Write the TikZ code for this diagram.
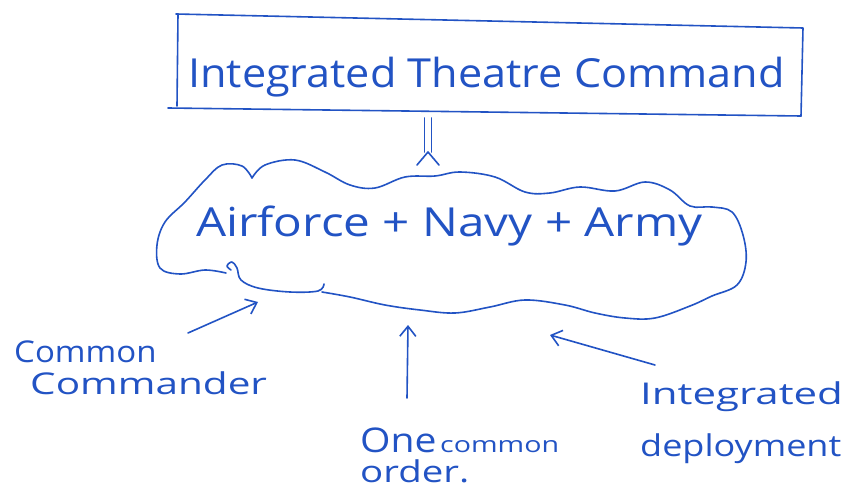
\documentclass[tikz,border=0pt]{standalone}
\usepackage{fontspec}
\setmainfont{Open Sans}
\usetikzlibrary{arrows.meta}
\definecolor{ink}{HTML}{2253C4}
\begin{document}
\begin{tikzpicture}[x=1pt,y=-1pt,
  pen/.style={draw=ink, line width=1.6pt, line cap=round, line join=round},
  hand/.style={text=ink, inner sep=0pt, anchor=base west},
  arrowpen/.style={pen, -{Straight Barb[length=10pt,width=16pt,line width=1.6pt]}}]
\useasboundingbox[fill=white] (0,0) rectangle (847,495);

% top box
\node[hand, font=\fontsize{40}{44}\selectfont] (itc) at (188,88) {\scalebox{1.08}[1]{Integrated Theatre Command}};
\draw[pen] (176,14) -- (803,28) -- (801,116);
\draw[pen] (178,14) -- (177,106);
\draw[pen] (168,108) -- (801,116);
\coordinate (itcS) at (428,118);

% cloud
\node[hand, font=\fontsize{40}{44}\selectfont] (forces) at (196,236) {\scalebox{1.19}[1]{Airforce + Navy + Army}};
\coordinate (cloudN) at (428,152);
\draw[pen] plot[smooth, tension=0.6] coordinates {(226,273) (205,270) (180,274) (160,268) (157,245) (165,222) (185,202) (205,180) (222,165) (242,166) (252,178)};
\draw[pen] plot[smooth, tension=0.6] coordinates {(252,178) (265,165) (295,160) (325,172) (350,185) (375,188) (405,177) (435,176) (460,172) (495,177) (525,192) (550,193) (580,187) (615,191) (645,182) (670,190) (690,206) (712,207) (732,212) (743,235) (746,262) (737,285) (712,296) (690,306) (655,318) (625,318) (595,313) (565,305) (525,300) (490,307) (455,313) (420,310) (385,305) (350,297) (322,292)};
\draw[pen] plot[smooth, tension=0.6] coordinates {(324,284) (318,291) (290,292) (258,288) (241,280) (237,268) (232,262) (227,266) (231,270)};

% double arrow down
\draw[pen] ([xshift=-3.5pt]itcS) -- ([xshift=-3.5pt]cloudN);
\draw[pen] ([xshift=3.5pt]itcS) -- ([xshift=3.5pt]cloudN);
\draw[pen] ([shift={(-11pt,-13pt)}]cloudN) -- (cloudN) -- ([shift={(11pt,-13pt)}]cloudN);

% labels below
\node[hand, font=\fontsize{30}{34}\selectfont] (c1) at (14,362) {\scalebox{1.1}[1]{Common}};
\node[hand, font=\fontsize{30}{34}\selectfont] (c2) at (30,394) {\scalebox{1.35}[1]{Commander}};
\coordinate (ccTail) at (188,333);
\coordinate (ccHead) at (258,302);
\draw[arrowpen] (ccTail) -- (ccHead);

\node[hand, font=\fontsize{34}{36}\selectfont] (one) at (360,452) {\scalebox{1.15}[1]{One}};
\node[hand, font=\fontsize{22}{24}\selectfont] (com) at (440,452) {\scalebox{1.3}[1]{common}};
\node[hand, font=\fontsize{30}{34}\selectfont] (ord) at (360,482) {\scalebox{1.28}[1]{order.}};
\coordinate (ocTail) at (407,398);
\coordinate (ocHead) at (408,325);
\draw[arrowpen] (ocTail) -- (ocHead);

\node[hand, font=\fontsize{30}{34}\selectfont] (ig) at (640,404) {\scalebox{1.4}[1]{Integrated}};
\node[hand, font=\fontsize{30}{34}\selectfont] (dp) at (640,456) {\scalebox{1.2}[1]{deployment}};
\coordinate (idTail) at (655,365);
\coordinate (idHead) at (550,335);
\draw[arrowpen] (idTail) -- (idHead);
\end{tikzpicture}
\end{document}
